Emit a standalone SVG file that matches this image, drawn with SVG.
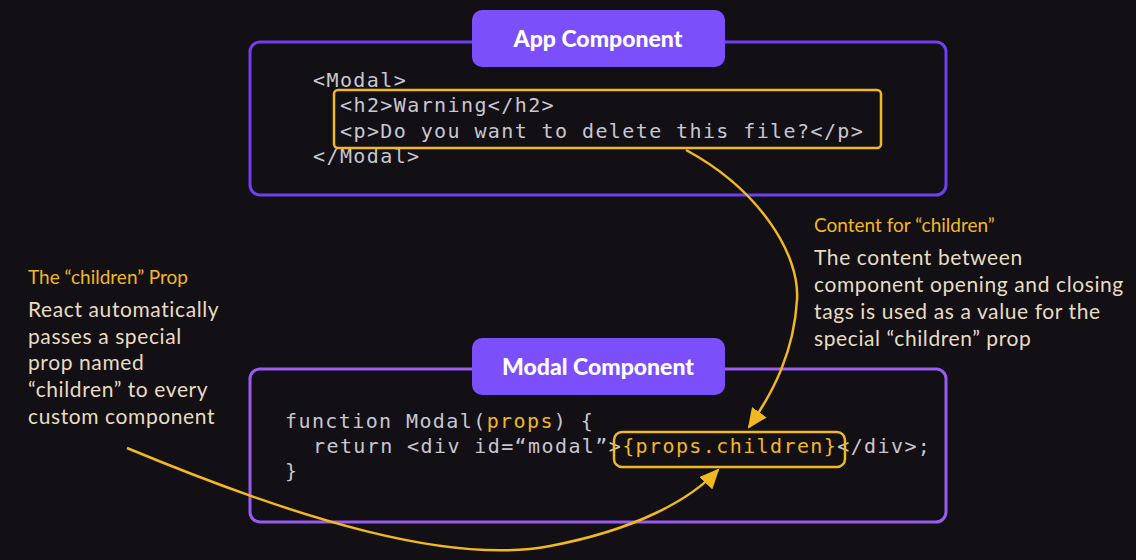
<svg xmlns="http://www.w3.org/2000/svg" width="1136" height="560" viewBox="0 0 1136 560">
<style>
.bg{fill:#121015}
.frame{fill:none;stroke-width:3}
.app{stroke:#6e40f2}
.modal{stroke:#9a5cf0}
.label{fill:#7b4ffb}
.labeltxt{font-family:Lato,"Open Sans",sans-serif;font-weight:900;font-size:23px;fill:#ffffff;text-anchor:middle}
.code{font-family:"DejaVu Sans Mono","Liberation Mono",monospace;font-size:20px;letter-spacing:1.4px;fill:#c9c6d0}
.y{fill:#f2b81f}
.hl{fill:none;stroke:#f2b81f;stroke-width:2.5}
.title{font-family:Lato,"Open Sans",sans-serif;font-size:19px;fill:#f2b81f}
.body{font-family:Lato,"Open Sans",sans-serif;font-size:21px;letter-spacing:0.6px;fill:#e8dcc0}
.conn{fill:none;stroke:#f2b81f;stroke-width:2.5}
</style>
<defs>
<marker id="ah" viewBox="0 0 20 18" refX="18" refY="9" markerWidth="20" markerHeight="18" markerUnits="userSpaceOnUse" orient="auto">
<path d="M0,0 L20,9 L0,18 Z" fill="#f2b81f"/>
</marker>
</defs>
<rect class="bg" x="0" y="0" width="1136" height="560"/>

<g id="app-component">
<rect class="frame app" x="250" y="42" width="696" height="153" rx="10"/>
<rect class="label" x="472" y="10" width="253" height="57" rx="10"/>
<text class="labeltxt" x="598" y="47">App Component</text>
<text class="code" x="313" y="87">&lt;Modal&gt;</text>
<text class="code" x="340" y="112">&lt;h2&gt;Warning&lt;/h2&gt;</text>
<text class="code" x="340" y="138">&lt;p&gt;Do you want to delete this file?&lt;/p&gt;</text>
<text class="code" x="313" y="163">&lt;/Modal&gt;</text>
<rect id="app-children-highlight" class="hl" x="334" y="90" width="547" height="58" rx="4"/>
</g>

<g id="modal-component">
<rect class="frame modal" x="250" y="369" width="696" height="153" rx="10"/>
<rect class="label" x="472" y="338" width="253" height="57" rx="10"/>
<text class="labeltxt" x="598" y="375">Modal Component</text>
<text class="code" x="285" y="428">function Modal(<tspan class="y">props</tspan>) {</text>
<text class="code" x="313" y="453">return &lt;div id=“modal”&gt;<tspan class="y">{props.children}</tspan>&lt;/div&gt;;</text>
<text class="code" x="285" y="478">}</text>
<rect id="modal-children-highlight" class="hl" x="614" y="432" width="231" height="35" rx="8"/>
</g>

<g id="children-prop-note">
<text class="title" x="28" y="284">The “children” Prop</text>
<text class="body" x="28" y="317">React automatically</text>
<text class="body" x="28" y="344">passes a special</text>
<text class="body" x="28" y="370">prop named</text>
<text class="body" x="28" y="397">“children” to every</text>
<text class="body" x="28" y="424">custom component</text>
</g>

<g id="content-note">
<text class="title" x="814" y="232">Content for “children”</text>
<text class="body" x="814" y="265">The content between</text>
<text class="body" x="814" y="292">component opening and closing</text>
<text class="body" x="814" y="319">tags is used as a value for the</text>
<text class="body" x="814" y="346">special “children” prop</text>
</g>

<g id="connectors">
<path class="conn" d="M686,150 C760,190 800,255 797,300 C794,350 775,390 749,427" marker-end="url(#ah)"/>
<path class="conn" d="M127,448 C300,520 450,565 550,546 C635,530 690,500 718,470" marker-end="url(#ah)"/>
</g>
</svg>
